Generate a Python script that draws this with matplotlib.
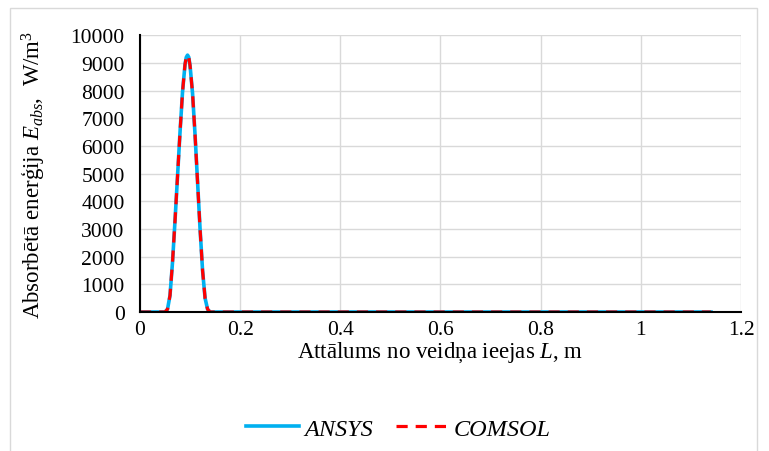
import matplotlib.pyplot as plt
from matplotlib.patches import Rectangle

plt.rcParams['font.family'] = ['Liberation Serif', 'DejaVu Serif']
plt.rcParams['mathtext.fontset'] = 'custom'
plt.rcParams['mathtext.rm'] = 'Liberation Serif'
plt.rcParams['mathtext.it'] = 'Liberation Serif:italic'

# distance along guide, m
dist = [0, 0.02, 0.04, 0.05, 0.055, 0.06, 0.065, 0.07, 0.075, 0.08, 0.085, 0.09,
        0.0925, 0.095, 0.0975, 0.1, 0.105, 0.11, 0.115, 0.12, 0.125, 0.13, 0.135,
        0.14, 0.2, 0.3, 0.4, 0.5, 0.6, 0.7, 0.8, 0.9, 1.0, 1.1, 1.14]
# absorbed energy, W/m^3
ansys = [0, 0, 0, 0, 100, 600, 1800, 3300, 4900, 6500, 7950, 8950,
         9200, 9280, 9200, 8900, 7900, 6400, 4700, 3000, 1500, 500, 100,
         0, 0, 0, 0, 0, 0, 0, 0, 0, 0, 0, 0]
comsol = [0, 0, 0, 0, 100, 600, 1800, 3300, 4900, 6500, 7950, 8950,
          9200, 9280, 9200, 8900, 7900, 6400, 4700, 3000, 1500, 500, 100,
          0, 0, 0, 0, 0, 0, 0, 0, 0, 0, 0, 0]

fig = plt.figure(figsize=(7.69, 4.52), dpi=100)
ax = fig.add_axes([0.182, 0.3075, 0.7816, 0.6125])

ax.plot(dist, ansys, color='#00B0F0', lw=2.6, label='ANSYS')
ax.plot(dist, comsol, color='#FF0000', lw=2.3, ls=(0, (3.5, 2.5)), label='COMSOL')

ax.set_xlim(0, 1.2)
ax.set_ylim(0, 10000)
ax.set_xticks([0, 0.2, 0.4, 0.6, 0.8, 1, 1.2])
ax.set_xticklabels(['0', '0.2', '0.4', '0.6', '0.8', '1', '1.2'])
ax.set_yticks(range(0, 10001, 1000))
ax.grid(True, color='#D9D9D9', lw=1)
ax.set_axisbelow(True)
for s in ['top', 'right']:
    ax.spines[s].set_visible(False)
ax.spines['left'].set_linewidth(1.5)
ax.spines['bottom'].set_linewidth(1.5)
ax.tick_params(length=0, labelsize=15.5)
ax.tick_params(axis='x', pad=6)
ax.tick_params(axis='y', pad=11)

ax.set_xlabel('Attālums no veidņa ieejas $\\mathit{L}$, m', fontsize=16.5, labelpad=0)
ax.set_ylabel('Absorbētā enerģija $\\mathit{E}_{\\mathit{abs}}$,  W/m$^3$', fontsize=16.5, labelpad=16)

leg = fig.legend(loc='lower center', bbox_to_anchor=(0.518, -0.024), ncol=2, frameon=False,
                 prop={'family': 'Liberation Serif', 'style': 'italic', 'size': 17.5},
                 handlelength=2.2, columnspacing=0.95, handletextpad=0.2)

fig.patches.append(Rectangle((0.013, -0.1), 0.972, 1.08, transform=fig.transFigure,
                             fill=False, edgecolor='#D9D9D9', lw=1))

fig.savefig('out.png', dpi=100)
